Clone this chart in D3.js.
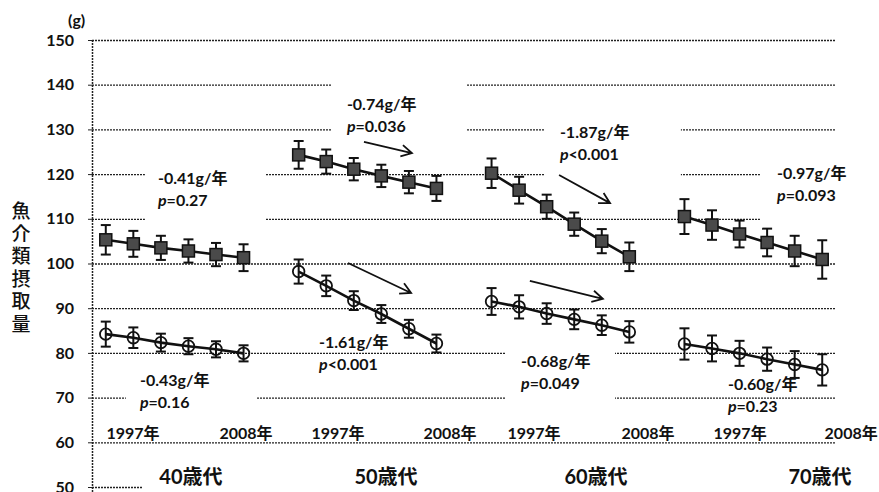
<!DOCTYPE html>
<html>
<head>
<meta charset="utf-8">
<script src="https://cdn.jsdelivr.net/npm/d3@7"></script>
<style>
  body { margin: 0; background: #fff; }
  text { font-family: "Lato", "Noto Sans CJK JP", sans-serif; fill: #111; }
</style>
</head>
<body>
<script>
// age groups and survey years (1997 .. 2008, 6 points per group)
const groups = ["40歳代", "50歳代", "60歳代", "70歳代"];
const yearLabels = ["1997年", "2008年"];
const yTicks = [50, 60, 70, 80, 90, 100, 110, 120, 130, 140, 150];

// upper series (filled squares) and its error bars
const upperValues = [
  [105.3, 104.4, 103.5, 102.8, 102.0, 101.3],
  [124.3, 122.8, 121.1, 119.6, 118.2, 116.8],
  [120.2, 116.4, 112.7, 108.8, 105.0, 101.5],
  [110.5, 108.6, 106.6, 104.7, 102.8, 100.9]
];
const upperErr = [
  [3.3, 2.9, 2.7, 2.6, 2.6, 3.0],
  [3.1, 2.7, 2.5, 2.5, 2.5, 2.8],
  [3.3, 3.0, 2.7, 2.6, 2.7, 3.2],
  [3.9, 3.3, 3.0, 3.1, 3.4, 4.3]
];
// lower series (open circles) and its error bars
const lowerValues = [
  [84.2, 83.4, 82.3, 81.5, 80.8, 79.9],
  [98.2, 95.0, 91.7, 88.7, 85.4, 82.1],
  [91.5, 90.3, 88.8, 87.5, 86.2, 84.7],
  [82.0, 81.0, 79.9, 78.6, 77.4, 76.2]
];
const lowerErr = [
  [2.8, 2.3, 2.0, 1.8, 1.8, 1.8],
  [2.7, 2.3, 2.1, 2.0, 2.0, 2.0],
  [3.0, 2.6, 2.3, 2.2, 2.2, 2.4],
  [3.5, 2.9, 2.8, 2.6, 3.0, 3.5]
];

// trend annotations
const upperSlope = ["-0.41g/年", "-0.74g/年", "-1.87g/年", "-0.97g/年"];
const upperP = ["=0.27", "=0.036", "<0.001", "=0.093"];
const lowerSlope = ["-0.43g/年", "-1.61g/年", "-0.68g/年", "-0.60g/年"];
const lowerP = ["=0.16", "<0.001", "=0.049", "=0.23"];

const W = 879, H = 492;
const svg = d3.select("body").append("svg")
    .attr("width", W)
    .attr("height", H);

// 27 category slots: 6 points + 1 empty slot per group
const x = d3.scaleLinear().domain([-0.5, 26.5]).range([92, 836]);
const y = d3.scaleLinear().domain([50, 150]).range([487, 40]);
const idx = (g, i) => g * 7 + i;

// gridlines
svg.append("g")
    .attr("transform", "translate(92,0)")
    .call(d3.axisLeft(y).tickValues(yTicks).tickSize(-(836 - 92)).tickFormat(""))
    .call(g => g.select(".domain").remove())
    .call(g => g.selectAll("line")
        .attr("stroke", "#222")
        .attr("stroke-width", 1.3)
        .attr("stroke-dasharray", "2,1"));

// white text boxes hiding parts of the gridlines (idx0, idx1, v0, v1)
const boxes = [
  [1.42, 5.78, 123.2, 107.9],
  [0.73, 5.49, 77.3, 65.0],
  [8.21, 13.11, 143.3, 127.6],
  [15.94, 20.87, 134.3, 117.6],
  [23.74, 28.2, 125.4, 107.9],
  [14.49, 18.48, 82.9, 65.0],
  [1.35, 28.2, 57.8, 47]
];
svg.append("g").selectAll("rect")
    .data(boxes)
    .enter()
    .append("rect")
    .attr("x", d => x(d[0]))
    .attr("y", d => y(d[2]))
    .attr("width", d => x(d[1]) - x(d[0]))
    .attr("height", d => y(d[3]) - y(d[2]))
    .attr("fill", "#fff");

// y axis
const yAxis = svg.append("g")
    .attr("transform", "translate(92,0)")
    .call(d3.axisLeft(y).tickValues(yTicks).tickSize(4).tickPadding(14));
yAxis.select(".domain")
    .attr("d", `M0.5,${y(150)}V${H}`)
    .attr("stroke", "#222")
    .attr("stroke-width", 1.5)
    .attr("stroke-dasharray", "2,1");
yAxis.selectAll("line").attr("stroke", "#222");
yAxis.selectAll("text")
    .style("font-size", "16px")
    .style("font-weight", "bold")
    .attr("fill", "#111");

svg.append("text")
    .attr("x", 68)
    .attr("y", 26)
    .style("font-size", "16px")
    .style("font-weight", "bold")
    .text("(g)");

// vertical y title
const yTitle = "魚介類摂取量".split("");
svg.append("g").selectAll("text")
    .data(yTitle)
    .enter()
    .append("text")
    .attr("x", 21)
    .attr("y", (d, i) => 218 + i * 22.5)
    .attr("text-anchor", "middle")
    .style("font-size", "19px")
    .style("font-weight", "500")
    .text(d => d);

// series
function drawSeries(values, errs, kind) {
  values.forEach((vals, g) => {
    const pts = vals.map((v, i) => ({i: idx(g, i), v: v, e: errs[g][i]}));
    svg.append("path")
        .datum(pts)
        .attr("fill", "none")
        .attr("stroke", "#111")
        .attr("stroke-width", 2.6)
        .attr("d", d3.line().x(d => x(d.i)).y(d => y(d.v)));

    const eb = svg.append("g").selectAll("g")
        .data(pts)
        .enter()
        .append("g")
        .attr("stroke", "#111")
        .attr("stroke-width", 2);
    eb.append("line")
        .attr("x1", d => x(d.i)).attr("x2", d => x(d.i))
        .attr("y1", d => y(d.v + d.e)).attr("y2", d => y(d.v - d.e));
    eb.append("line")
        .attr("x1", d => x(d.i) - 5).attr("x2", d => x(d.i) + 5)
        .attr("y1", d => y(d.v + d.e)).attr("y2", d => y(d.v + d.e));
    eb.append("line")
        .attr("x1", d => x(d.i) - 5).attr("x2", d => x(d.i) + 5)
        .attr("y1", d => y(d.v - d.e)).attr("y2", d => y(d.v - d.e));

    if (kind === "square") {
      svg.append("g").selectAll("rect")
          .data(pts)
          .enter()
          .append("rect")
          .attr("x", d => x(d.i) - 6)
          .attr("y", d => y(d.v) - 6)
          .attr("width", 12)
          .attr("height", 12)
          .attr("fill", "#4a4a4a")
          .attr("stroke", "#111")
          .attr("stroke-width", 1.5);
    } else {
      svg.append("g").selectAll("circle")
          .data(pts)
          .enter()
          .append("circle")
          .attr("cx", d => x(d.i))
          .attr("cy", d => y(d.v))
          .attr("r", 5.8)
          .attr("fill", "none")
          .attr("stroke", "#111")
          .attr("stroke-width", 1.8);
    }
  });
}
drawSeries(upperValues, upperErr, "square");
drawSeries(lowerValues, lowerErr, "circle");

// slope / p annotations: left idx, centre value of first line
const upperPos = [[1.895, 119.1], [8.75, 135.7], [16.48, 129.4], [24.36, 120.2]];
const lowerPos = [[1.24, 73.9], [7.74, 82.4], [15.07, 78.2], [22.58, 73.0]];

function annotate(slopes, ps, pos) {
  slopes.forEach((s, g) => {
    const px = x(pos[g][0]), py = y(pos[g][1]);
    svg.append("text")
        .attr("x", px).attr("y", py).attr("dy", "0.36em")
        .style("font-size", "16px")
        .style("font-weight", "bold")
        .text(s);
    const t = svg.append("text")
        .attr("x", px).attr("y", py + 22.5).attr("dy", "0.36em")
        .style("font-size", "16px")
        .style("font-weight", "bold");
    t.append("tspan").style("font-style", "italic").text("p");
    t.append("tspan").text(ps[g]);
  });
}
annotate(upperSlope, upperP, upperPos);
annotate(lowerSlope, lowerP, lowerPos);

// trend arrows: [idx0, v0, idx1, v1]
const arrows = [
  [9.37, 127.2, 11.11, 124.7],
  [8.79, 100.1, 11.08, 93.4],
  [16.45, 119.8, 18.30, 113.5],
  [15.39, 96.1, 18.04, 92.1]
];
arrows.forEach(a => {
  const x0 = x(a[0]), y0 = y(a[1]), x1 = x(a[2]), y1 = y(a[3]);
  const ang = Math.atan2(y1 - y0, x1 - x0);
  const len = 12, spread = 0.5;
  const p = d3.path();
  p.moveTo(x0, y0); p.lineTo(x1, y1);
  p.moveTo(x1 - len * Math.cos(ang - spread), y1 - len * Math.sin(ang - spread));
  p.lineTo(x1, y1);
  p.lineTo(x1 - len * Math.cos(ang + spread), y1 - len * Math.sin(ang + spread));
  svg.append("path")
      .attr("d", p.toString())
      .attr("fill", "none")
      .attr("stroke", "#111")
      .attr("stroke-width", 1.8);
});

// year labels under each group (centre idx)
const yearPos = [[0.99, 5.09], [8.43, 12.49], [15.54, 19.68], [23.02, 27.05]];
yearPos.forEach(pair => {
  pair.forEach((p, k) => {
    svg.append("text")
        .attr("x", x(p)).attr("y", y(62.1)).attr("dy", "0.36em")
        .attr("text-anchor", "middle")
        .style("font-size", "16px")
        .style("font-weight", "bold")
        .text(yearLabels[k]);
  });
});

// age group labels
const groupPos = [3.09, 10.17, 17.79, 25.92];
svg.append("g").selectAll("text")
    .data(groups)
    .enter()
    .append("text")
    .attr("x", (d, i) => x(groupPos[i]))
    .attr("y", y(52.2)).attr("dy", "0.36em")
    .attr("text-anchor", "middle")
    .style("font-size", "20px")
    .style("font-weight", "bold")
    .text(d => d);
</script>
</body>
</html>
